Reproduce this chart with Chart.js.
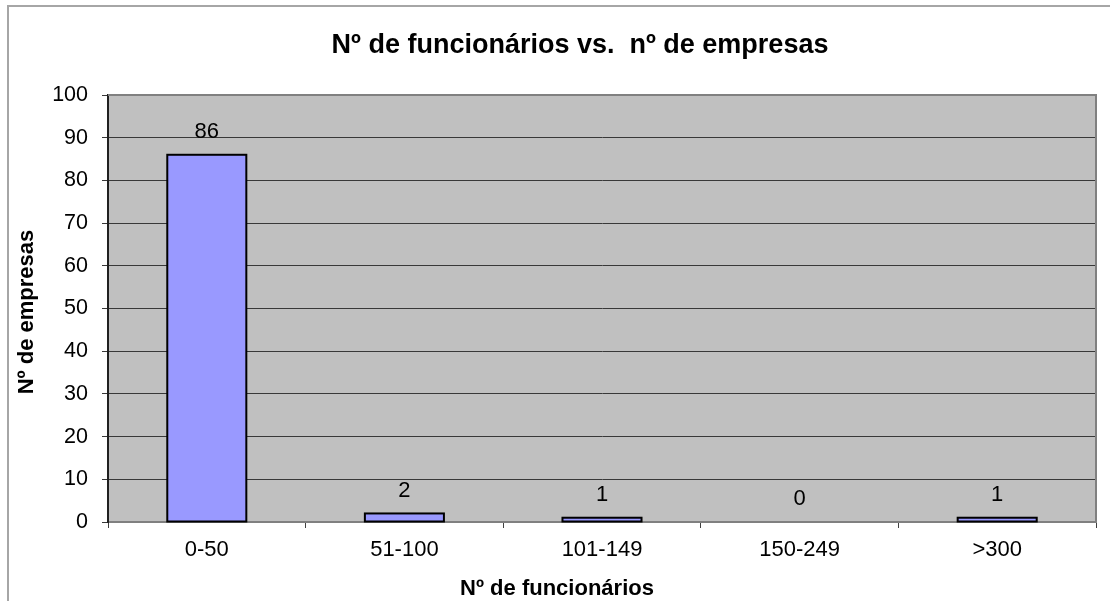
<!DOCTYPE html>
<html>
<head>
<meta charset="utf-8">
<script src="https://cdn.jsdelivr.net/npm/chart.js@4.4.0/dist/chart.umd.min.js"></script>
<style>
  html, body { margin: 0; padding: 0; background: #fff; }
  #wrap { width: 1110px; height: 601px; position: relative; }
</style>
</head>
<body>
<div id="wrap"><canvas id="chart"></canvas></div>
<script>
// categories and values
const categories = ['0-50', '51-100', '101-149', '150-249', '>300'];
const empresas = [86, 2, 1, 0, 1];

const titleText = 'Nº de funcionários vs.  nº de empresas';
const xTitle = 'Nº de funcionários';
const yTitle = 'Nº de empresas';

const FONT = '"Liberation Sans", Arial, sans-serif';

// gray plot area, outer frame and plot border
const framePlugin = {
    id: 'frame',
    beforeDraw(chart) {
        const ctx = chart.ctx;
        const a = chart.chartArea;
        ctx.save();
        ctx.fillStyle = '#c0c0c0';
        ctx.fillRect(a.left, a.top, a.right - a.left, a.bottom - a.top);
        // outer chart frame
        ctx.strokeStyle = '#a6a6a6';
        ctx.lineWidth = 2;
        ctx.beginPath();
        ctx.moveTo(8, 601);
        ctx.lineTo(8, 6);
        ctx.lineTo(1110, 6);
        ctx.stroke();
        ctx.restore();
    },
    afterDraw(chart) {
        const ctx = chart.ctx;
        const a = chart.chartArea;
        ctx.save();
        ctx.strokeStyle = '#808080';
        ctx.lineWidth = 2;
        ctx.beginPath();
        ctx.moveTo(a.left, a.top);
        ctx.lineTo(a.right, a.top);
        ctx.lineTo(a.right, a.bottom);
        ctx.stroke();

        // chart title and axis titles (Excel places them off the plot centre)
        ctx.fillStyle = '#000';
        ctx.textAlign = 'center';
        ctx.textBaseline = 'alphabetic';
        ctx.font = 'bold 27px ' + FONT;
        ctx.fillText(titleText, 580, 53);
        ctx.font = 'bold 22px ' + FONT;
        ctx.fillText(xTitle, 557, 595);
        ctx.translate(33, 312);
        ctx.rotate(-Math.PI / 2);
        ctx.fillText(yTitle, 0, 0);
        ctx.restore();
    }
};

// bar outlines (centred on the edges) and value labels above each bar
const labelPlugin = {
    id: 'valueLabels',
    afterDatasetsDraw(chart) {
        const ctx = chart.ctx;
        const meta = chart.getDatasetMeta(0);
        ctx.save();
        ctx.strokeStyle = '#000';
        ctx.lineWidth = 2;
        meta.data.forEach((bar, i) => {
            if (empresas[i] > 0) {
                ctx.strokeRect(bar.x - bar.width / 2, bar.y, bar.width, bar.base - bar.y);
            }
        });
        ctx.font = '22px ' + FONT;
        ctx.fillStyle = '#000';
        ctx.textAlign = 'center';
        ctx.textBaseline = 'middle';
        meta.data.forEach((bar, i) => {
            ctx.fillText(String(empresas[i]), bar.x, bar.y - 23);
        });
        ctx.restore();
    }
};

const ctx = document.getElementById('chart').getContext('2d');
new Chart(ctx, {
    type: 'bar',
    data: {
        labels: categories,
        datasets: [{
            data: empresas,
            backgroundColor: '#9999ff',
            borderWidth: 0,
            categoryPercentage: 1.0,
            barPercentage: 0.4
        }]
    },
    options: {
        responsive: true,
        maintainAspectRatio: false,
        animation: false,
        layout: {
            padding: { left: 10, right: 14, top: 95, bottom: 0 }
        },
        plugins: {
            legend: { display: false },
            tooltip: { enabled: false },
            title: { display: false }
        },
        scales: {
            x: {
                offset: true,
                grid: {
                    offset: true,
                    drawOnChartArea: false,
                    drawTicks: true,
                    tickLength: 6,
                    color: '#404040'
                },
                border: { color: '#808080', width: 2 },
                ticks: {
                    color: '#000',
                    font: { family: FONT, size: 22 },
                    padding: 9,
                    maxRotation: 0
                },
                afterFit(scale) { scale.height = 79; }
            },
            y: {
                min: 0,
                max: 100,
                ticks: {
                    stepSize: 10,
                    color: '#000',
                    font: { family: FONT, size: 21.5 },
                    padding: 14
                },
                grid: {
                    color: '#383838',
                    tickColor: '#383838',
                    tickLength: 6,
                    lineWidth: 1
                },
                border: { color: '#202020', width: 2 },
                afterFit(scale) { scale.width = 98; }
            }
        }
    },
    plugins: [framePlugin, labelPlugin]
});
</script>
</body>
</html>
